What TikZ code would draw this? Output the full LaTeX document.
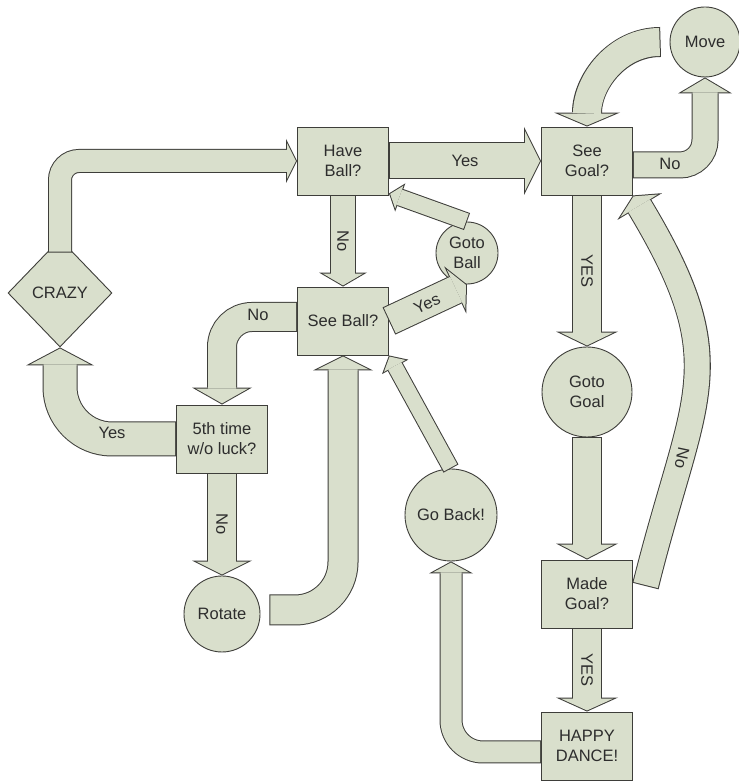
\documentclass[tikz,border=0pt]{standalone}
\usepackage{fontspec}
\setmainfont{Liberation Sans}
\usetikzlibrary{shapes.geometric,arrows.meta,calc,positioning}
\definecolor{boxfill}{RGB}{217,223,204}
\definecolor{edgegray}{RGB}{62,62,58}
\definecolor{textgray}{RGB}{45,45,45}
\newcommand{\flowfont}{\fontsize{16.5}{20}\selectfont}
\newcommand{\fb}{1}
% block arrow: [options]{stem width}{head length}{head half width}{path}
\newcommand{\flowarrow}[5][]{%
  \pgfmathsetmacro{\fdelta}{\fb*sqrt((#3)*(#3)+(#4)*(#4))/(#4)}%
  \pgfmathsetmacro{\finlen}{#3-\fdelta-\fb}%
  \pgfmathsetmacro{\finwid}{2*\finlen*(#4)/(#3)}%
  \pgfmathsetmacro{\foutwid}{2*(#4)}%
  \pgfmathsetmacro{\finstem}{#2-2*\fb}%
  \draw[draw=edgegray, line width=#2pt,
        -{Triangle[length=#3pt, width=\foutwid pt, line width=0pt]}, #1] #5;
  \draw[draw=boxfill, line width=\finstem pt, shorten <=\fb pt, shorten >=\fdelta pt,
        -{Triangle[length=\finlen pt, width=\finwid pt, line width=0pt]}, #1] #5;
}
\tikzset{
  decision/.style={draw=edgegray, fill=boxfill, line width=0.9pt, minimum width=91pt,
    minimum height=68pt, align=center, inner sep=2pt, font=\flowfont, text=textgray},
  action/.style={circle, draw=edgegray, fill=boxfill, line width=0.9pt, align=center,
    inner sep=0pt, font=\flowfont, text=textgray},
  flowlabel/.style={font=\flowfont, text=textgray, inner sep=1pt}
}
\begin{document}
\begin{tikzpicture}[x=1pt, y=1pt]
    \fill[white] (0,0) rectangle (738,783);
    \useasboundingbox (0,0) rectangle (738,783);

    % Boxes and circles
    \node[decision] (have) at (343,622) {Have\\Ball?};
    \node[decision] (seegoal) at (587,622) {See\\Goal?};
    \node[decision] (seeball) at (343,462) {See Ball?};
    \node[decision] (fifth) at (222,344) {5th time\\w/o luck?};
    \node[decision] (madegoal) at (587,189) {Made\\Goal?};
    \node[decision] (happy) at (587,37) {HAPPY\\DANCE!};
    \node[diamond, draw=edgegray, fill=boxfill, line width=0.9pt, minimum width=104pt,
          minimum height=108pt, inner sep=0pt, font=\flowfont, text=textgray] (crazy) at (60,490) {CRAZY};
    \node[action, minimum size=70pt] (move) at (705,741) {Move};
    \node[action, minimum size=62pt] (gotoball) at (467,530) {Goto\\Ball};
    \node[action, minimum size=90pt] (gotogoal) at (587,391) {Goto\\Goal};
    \node[action, minimum size=92pt] (goback) at (451,268) {Go Back!};
    \node[action, minimum size=76pt] (rotate) at (222,169) {Rotate};

    % Block arrows
    \flowarrow[rounded corners=19pt]{24}{11}{22}{($(crazy.north)+(0,-14)$) |- (have.west)}
    \flowarrow{37}{17}{34}{(have.east) -- (seegoal.west)}
    \flowarrow{26}{14}{24}{(have.south) -- (seeball.north)}
    \flowarrow[rounded corners=30pt]{30}{17}{30}{($(seeball.west)+(0,4)$) -| (fifth.north)}
    \flowarrow[rounded corners=52pt]{35}{18}{34}{(fifth.west) -| (crazy.south)}
    \flowarrow{30}{15}{30}{(fifth.south) -- (rotate.north)}
    \flowarrow[rounded corners=48pt]{31}{15}{30}{($(rotate.east)+(9,4)$) -| (seeball.south)}
    \flowarrow{30}{13}{26}{(seeball.east) -- (gotoball.south)}
    \flowarrow{18}{12}{15}{(gotoball.north) -- ($(have.south east)+(0,2)$)}
    \flowarrow[rounded corners=25pt]{27}{16}{27}{($(seegoal.east)+(0,-4)$) -| (move.south)}
    \flowarrow{30}{14}{33}{($(move.west)+(-9,0)$) to[out=180, in=90] (seegoal.north)}
    \flowarrow{30}{15}{31}{(seegoal.south) -- (gotogoal.north)}
    \flowarrow{30}{16}{31}{(gotogoal.south) -- (madegoal.north)}
    \flowarrow{27}{13}{26}{($(madegoal.east)+(12.5,8)$) to[out=76, in=-59, looseness=1.3] (seegoal.south east)}
    \flowarrow{30}{14}{31}{(madegoal.south) -- (happy.north)}
    \flowarrow[rounded corners=32pt]{23}{12}{22}{($(happy.west)+(0,-6)$) -| (goback.south)}
    \flowarrow{17}{13}{15}{(goback.north) -- (seeball.south east)}

    % Labels
    \node[flowlabel] (lyes1) at ($(have.east)!0.5!(seegoal.west)$) {Yes};
    \node[flowlabel, rotate=-90] (lno1) at ($(have.south)!0.5!(seeball.north)$) {No};
    \node[flowlabel] (lno2) at (258,468) {No};
    \node[flowlabel] (lyes2) at (112,350) {Yes};
    \node[flowlabel, rotate=-90] (lno3) at ($(fifth.south)!0.5!(rotate.north)$) {No};
    \node[flowlabel, rotate=25] (lyes3) at (427,479) {Yes};
    \node[flowlabel] (lno4) at (670,619) {No};
    \node[flowlabel, rotate=-90] (lyes4) at ($(seegoal.south)!0.5!(gotogoal.north)$) {YES};
    \node[flowlabel, rotate=-102] (lno5) at (682,325) {No};
    \node[flowlabel, rotate=-90] (lyes5) at ($(madegoal.south)!0.5!(happy.north)$) {YES};
\end{tikzpicture}
\end{document}
